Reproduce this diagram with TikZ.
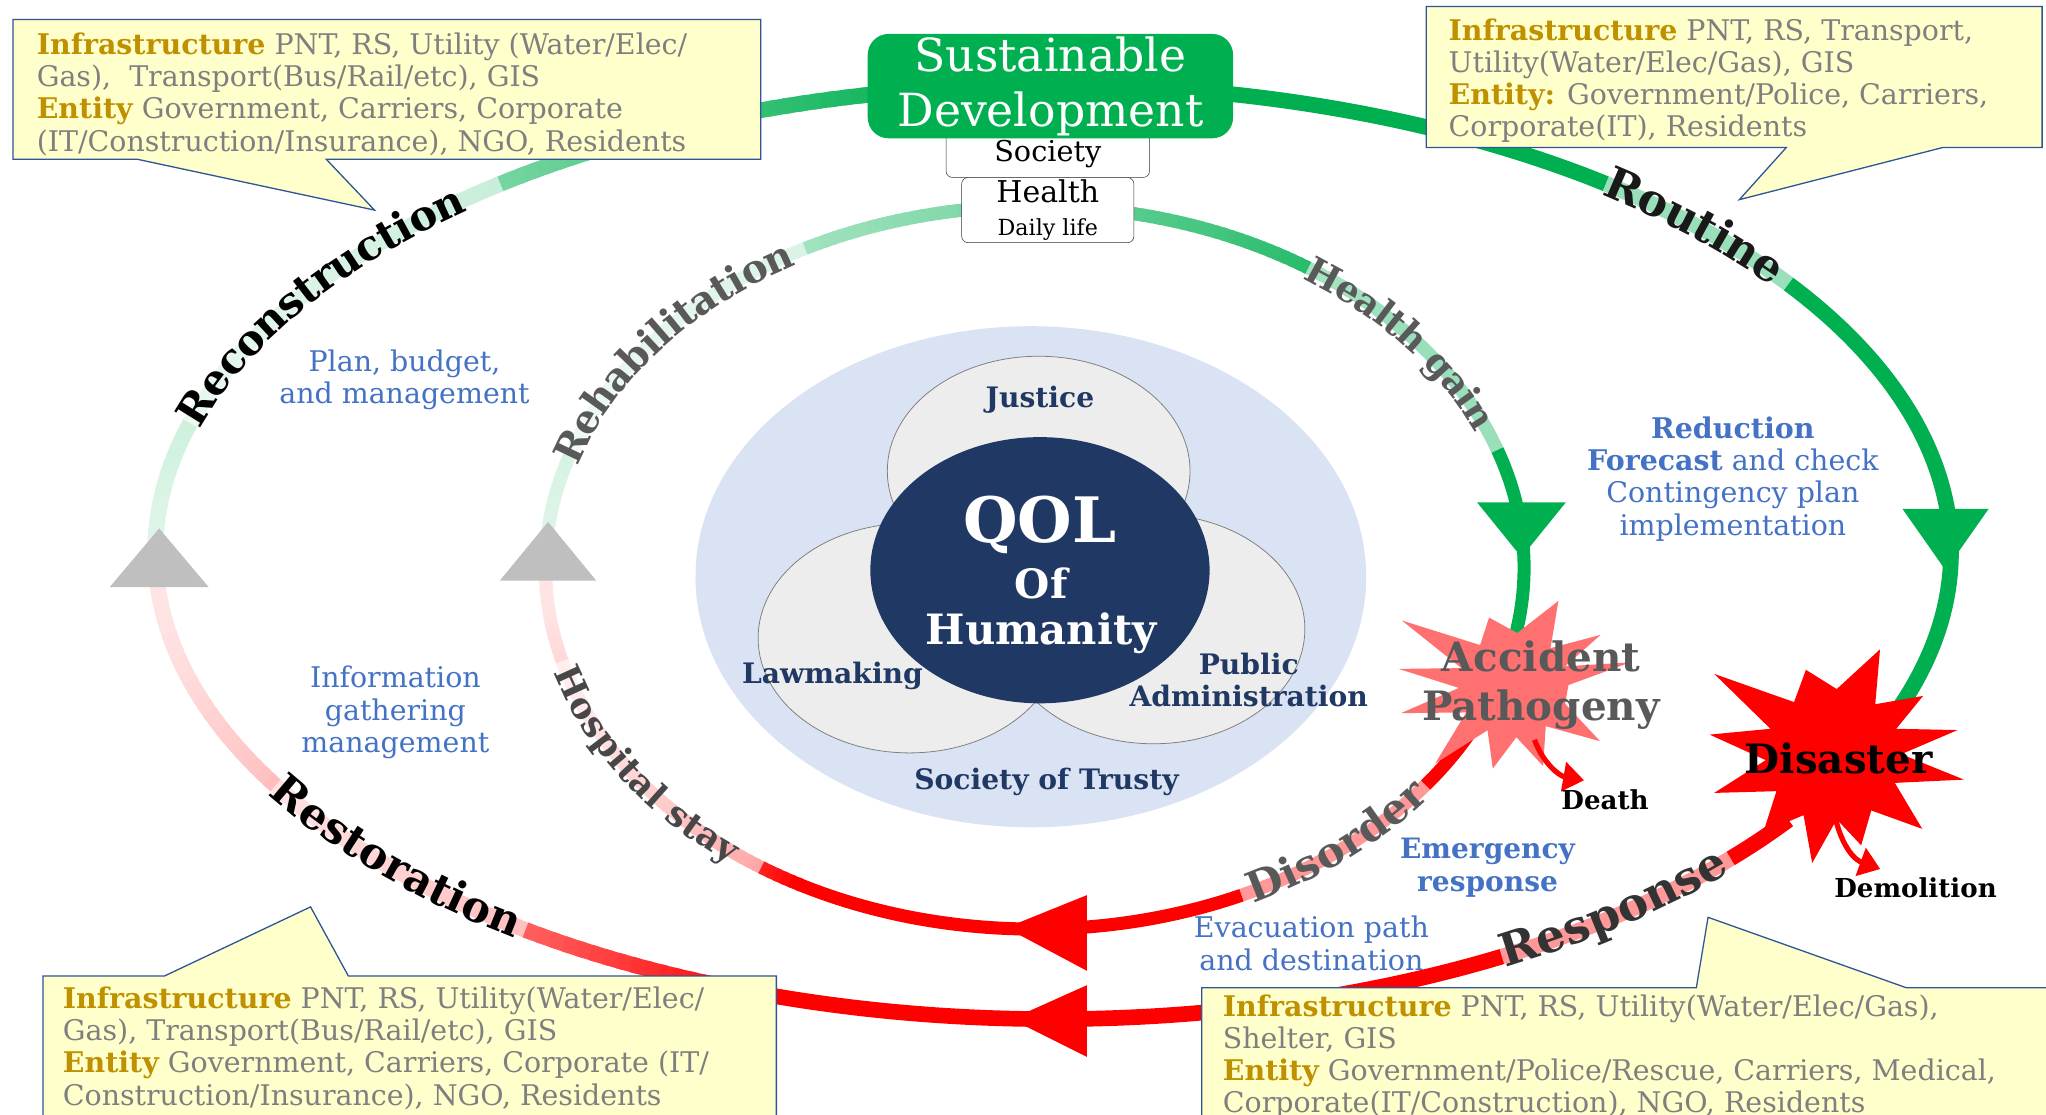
\documentclass[tikz,border=0pt]{standalone}
\usepackage{fontspec}
\setmainfont{DejaVu Serif}
\usetikzlibrary{decorations.text,arrows.meta,positioning}

\definecolor{sdgreen}{HTML}{00B050}
\definecolor{palegreen}{HTML}{DDF5E8}
\definecolor{palepink}{HTML}{FFE4E4}
\definecolor{notefill}{HTML}{FFFFCC}
\definecolor{noteline}{HTML}{2F5597}
\definecolor{gold}{HTML}{BF9000}
\definecolor{notegray}{HTML}{7F7F7F}
\definecolor{navy}{HTML}{203864}
\definecolor{annblue}{HTML}{4472C4}
\definecolor{skyfill}{HTML}{DAE3F3}
\definecolor{discfill}{HTML}{EDEDED}
\definecolor{trigray}{HTML}{BFBFBF}
\definecolor{salmon}{HTML}{FF7070}
\definecolor{labgray}{HTML}{595959}

\newcommand{\fs}[2]{\fontsize{#1}{#2}\selectfont}
\newcommand{\hd}[1]{\textcolor{gold}{\bfseries #1}}

\begin{document}
\begin{tikzpicture}[x=1pt,y=1pt,
  ring/.style={line width=12pt},
  iring/.style={line width=10pt},
  oarc/.style={x radius=688pt,y radius=358pt},
  iarc/.style={x radius=375pt,y radius=277pt},
  glow/.style={draw=white,opacity=0.6,line width=15pt},
  ringlabel/.style={decorate,decoration={text along path,raise=-9pt}},
  disc/.style={fill=discfill,draw=notegray,line width=0.6pt},
  note/.style={fill=notefill,draw=noteline,line width=1pt},
  notetext/.style={anchor=north west,inner sep=0pt,align=left,text=notegray,font=\fs{21.8}{24.7}},
  ann/.style={text=annblue,align=center,inner sep=0pt,font=\fs{21.8}{24.7}},
  core/.style={text=navy,align=center,inner sep=0pt,font=\fs{21.6}{25}\bfseries},
  tag/.style={inner sep=0pt,font=\fs{20}{24}\bfseries},
  hit/.style={red,line width=4pt,-{Triangle[length=16pt,width=22pt]}}
]
\useasboundingbox (0,0) rectangle (1568,-854);
\fill[white] (0,0) rectangle (1568,-854);
\coordinate (oc) at (807,-423);
\coordinate (ic) at (793,-435);

% centre of the cycle
\fill[skyfill] (790,-442) ellipse[x radius=257pt,y radius=192pt];
\draw[disc] (796,-361) ellipse[x radius=116pt,y radius=88pt];
\draw[disc] (884,-482) ellipse[x radius=116pt,y radius=88pt];
\draw[disc] (697,-489) ellipse[x radius=116pt,y radius=88pt];
\fill[navy] (797,-437) ellipse[x radius=130pt,y radius=102pt];

% outer ring
\draw[ring,sdgreen] (oc) ++(-22:688pt and 358pt) arc[start angle=-22,end angle=98,oarc];
\foreach \a in {97,...,179}{
  \pgfmathtruncatemacro\p{100*((180-\a)/84)^1.6}
  \pgfmathsetmacro\e{\a+1.5}
  \draw[ring,draw=sdgreen!\p!palegreen] (oc) ++(\a:688pt and 358pt) arc[start angle=\a,end angle=\e,oarc];
}
\foreach \a in {180,...,250}{
  \pgfmathtruncatemacro\p{100*((\a-180)/70)^2}
  \pgfmathsetmacro\e{\a+1.5}
  \draw[ring,draw=red!\p!palepink] (oc) ++(\a:688pt and 358pt) arc[start angle=\a,end angle=\e,oarc];
}
\draw[ring,red] (oc) ++(251:688pt and 358pt) arc[start angle=251,end angle=325,oarc];

% inner ring
\draw[iring,sdgreen] (ic) ++(-14:375pt and 277pt) arc[start angle=-14,end angle=42,iarc];
\foreach \a in {41,...,179}{
  \pgfmathtruncatemacro\p{100*((180-\a)/140)^1.6}
  \pgfmathsetmacro\e{\a+1.5}
  \draw[iring,draw=sdgreen!\p!palegreen] (ic) ++(\a:375pt and 277pt) arc[start angle=\a,end angle=\e,iarc];
}
\foreach \a in {180,...,240}{
  \pgfmathtruncatemacro\p{100*((\a-180)/60)^2}
  \pgfmathsetmacro\e{\a+1.5}
  \draw[iring,draw=red!\p!palepink] (ic) ++(\a:375pt and 277pt) arc[start angle=\a,end angle=\e,iarc];
}
\draw[iring,red] (ic) ++(241:375pt and 277pt) arc[start angle=241,end angle=333,iarc];

% pale patches under the phase names
\draw[glow] (oc) ++(164:688pt and 358pt) arc[start angle=164,end angle=128,oarc];
\draw[glow] (oc) ++(52:688pt and 358pt) arc[start angle=52,end angle=35,oarc];
\draw[glow] (oc) ++(210:688pt and 358pt) arc[start angle=210,end angle=234,oarc];
\draw[glow] (oc) ++(300:688pt and 358pt) arc[start angle=300,end angle=319,oarc];
\draw[glow,line width=13pt] (ic) ++(162:375pt and 277pt) arc[start angle=162,end angle=118,iarc];
\draw[glow,line width=13pt] (ic) ++(56:375pt and 277pt) arc[start angle=56,end angle=19,iarc];
\draw[glow,line width=13pt] (ic) ++(195:375pt and 277pt) arc[start angle=195,end angle=236,iarc];
\draw[glow,line width=13pt] (ic) ++(295:375pt and 277pt) arc[start angle=295,end angle=323,iarc];

% phase names
\path[ringlabel,decoration={text={|\fs{32}{32}\bfseries|Reconstruction},text color=black}] (oc) ++(164:688pt and 358pt) arc[start angle=164,end angle=100,oarc];
\path[ringlabel,decoration={text={|\fs{34}{34}\bfseries|Routine},text color=black!90}] (oc) ++(52:688pt and 358pt) arc[start angle=52,end angle=5,oarc];
\path[ringlabel,decoration={text={|\fs{33}{33}\bfseries|Restoration},text color=black}] (oc) ++(210:688pt and 358pt) arc[start angle=210,end angle=262,oarc];
\path[ringlabel,decoration={text={|\fs{35}{35}\bfseries|Response},text color=black!80}] (oc) ++(300:688pt and 358pt) arc[start angle=300,end angle=348,oarc];
\path[ringlabel,decoration={text={|\fs{30}{30}\bfseries|Rehabilitation},text color=labgray}] (ic) ++(163:375pt and 277pt) arc[start angle=163,end angle=90,iarc];
\path[ringlabel,decoration={text={|\fs{28}{28}\bfseries|Health gain},text color=labgray}] (ic) ++(56:375pt and 277pt) arc[start angle=56,end angle=-12,iarc];
\path[ringlabel,decoration={text={|\fs{27}{27}\bfseries|Hospital stay},text color=labgray!80!black}] (ic) ++(196:375pt and 277pt) arc[start angle=196,end angle=265,iarc];
\path[ringlabel,decoration={text={|\fs{32}{32}\bfseries|Disorder},text color=labgray}] (ic) ++(296:375pt and 277pt) arc[start angle=296,end angle=352,iarc];

% arrow heads and start marks
\fill[sdgreen] (1458,-390) -- (1524,-390) -- (1491,-437) -- cycle;
\fill[sdgreen] (1132,-385) -- (1200,-385) -- (1166,-427) -- cycle;
\fill[red] (775,-781) -- (833,-755) -- (833,-810) -- cycle;
\fill[red] (771,-711) -- (833,-686) -- (833,-744) -- cycle;
\fill[trigray] (122,-405) -- (160,-450) -- (84,-450) -- cycle;
\fill[trigray] (420,-400) -- (457,-445) -- (383,-445) -- cycle;

% accident and disaster bursts
\fill[salmon,shift={(1160,-525)}] (0:42pt) \foreach \a/\r in {11/91,20/42,30/77,45/40,62/73,86/40,110/55,130/40,150/99,162/42,172/89,183/42,194/89,210/42,225/85,240/40,256/66,273/40,290/66,308/40,327/79,340/42}{ -- (\a:\r pt) } -- cycle;
\fill[red,shift={(1405,-578)}] (0:52pt) \foreach \a/\r in {11/97,22/52,33/82,50/50,66/88,87/50,108/68,127/50,146/110,158/52,171/96,185/52,198/96,213/52,228/80,244/52,259/85,273/50,287/73,304/52,320/89,335/52,349/102}{ -- (\a:\r pt) } -- cycle;
\coordinate (dtail) at (1176,-567);
\coordinate (dtip) at (1214,-598);
\coordinate (mtail) at (1404,-611);
\coordinate (mtip) at (1441,-666);
\draw[hit] (dtail) to[out=-70,in=170] (dtip);
\draw[hit] (mtail) to[out=-85,in=160] (mtip);
\node[text=labgray,align=center,inner sep=0pt,font=\fs{31}{37}\bfseries] (acc) at (1181,-525) {Accident\\Pathogeny};
\node[inner sep=0pt,font=\fs{31}{31}\bfseries] (dis) at (1409,-581) {Disaster};
\node[tag] (death) at (1230,-613) {Death};
\node[tag] (demo) at (1468,-680) {Demolition};

% top boxes
\node[draw=black!80,fill=white,rounded corners=5pt,minimum width=156pt,minimum height=36pt,inner sep=0pt,font=\fs{22}{24}] (soc) at (803,-118) {Society};
\node[draw=black!80,fill=white,rounded corners=5pt,minimum width=132pt,minimum height=50pt,inner sep=0pt,align=center,font=\fs{23}{26}] (hlth) at (803,-161) {Health\\{\fs{17}{20}Daily life}};
\node[fill=sdgreen,rounded corners=16pt,minimum width=280pt,minimum height=80pt,inner sep=0pt,text=white,align=center,font=\fs{35}{42}] (sd) at (805,-66) {Sustainable\\Development};

% QOL core
\node[text=white,inner sep=0pt,font=\fs{48}{48}\bfseries] (qol) at (797,-402) {QOL};
\node[text=white,inner sep=0pt,font=\fs{31}{31}\bfseries] (of) at (798,-447) {Of};
\node[text=white,inner sep=0pt,font=\fs{32}{32}\bfseries] (hum) at (798,-485) {Humanity};
\node[core] (jus) at (797,-306) {Justice};
\node[core] (law) at (638,-518) {Lawmaking};
\node[core] (pub) at (957,-521) {Public\\Administration};
\node[core] (trust) at (802,-599) {Society of Trusty};

% blue notes
\node[ann] (plan) at (310,-291) {Plan, budget,\\and management};
\node[ann] (info) at (303,-546) {Information\\gathering\\management};
\node[ann] (redu) at (1328,-367) {\textbf{Reduction}\\\textbf{Forecast} and check\\Contingency plan\\implementation};
\node[ann,font=\fs{21.5}{24.7}\bfseries] (emer) at (1140,-665) {Emergency\\response};
\node[ann] (evac) at (1005,-723) {Evacuation path\\and destination};

% callouts
\draw[note] (10,-15) -- (583,-15) -- (583,-122) -- (250,-122) -- (287,-161) -- (105,-122) -- (10,-122) -- cycle;
\draw[note] (1093,-5) -- (1565,-5) -- (1565,-113) -- (1489,-113) -- (1333,-153) -- (1369,-113) -- (1093,-113) -- cycle;
\draw[note] (33,-870) -- (33,-748) -- (126,-748) -- (238,-695) -- (267,-748) -- (595,-748) -- (595,-870) -- cycle;
\draw[note] (921,-870) -- (921,-757) -- (1300,-757) -- (1309,-703) -- (1461,-757) -- (1580,-757) -- (1580,-870) -- cycle;
\node[notetext] (tlnote) at (28,-25) {\hd{Infrastructure} PNT, RS, Utility (Water/Elec/\\Gas),\ \ Transport(Bus/Rail/etc), GIS\\\hd{Entity} Government, Carriers, Corporate\\(IT/Construction/Insurance), NGO, Residents};
\node[notetext] (trnote) at (1110,-14) {\hd{Infrastructure} PNT, RS, Transport,\\Utility(Water/Elec/Gas), GIS\\\hd{Entity:} Government/Police, Carriers,\\Corporate(IT), Residents};
\node[notetext] (blnote) at (48,-756) {\hd{Infrastructure} PNT, RS, Utility(Water/Elec/\\Gas), Transport(Bus/Rail/etc), GIS\\\hd{Entity} Government, Carriers, Corporate (IT/\\Construction/Insurance), NGO, Residents};
\node[notetext] (brnote) at (937,-762) {\hd{Infrastructure} PNT, RS, Utility(Water/Elec/Gas),\\Shelter, GIS\\\hd{Entity} Government/Police/Rescue, Carriers, Medical,\\Corporate(IT/Construction), NGO, Residents};
\end{tikzpicture}
\end{document}
